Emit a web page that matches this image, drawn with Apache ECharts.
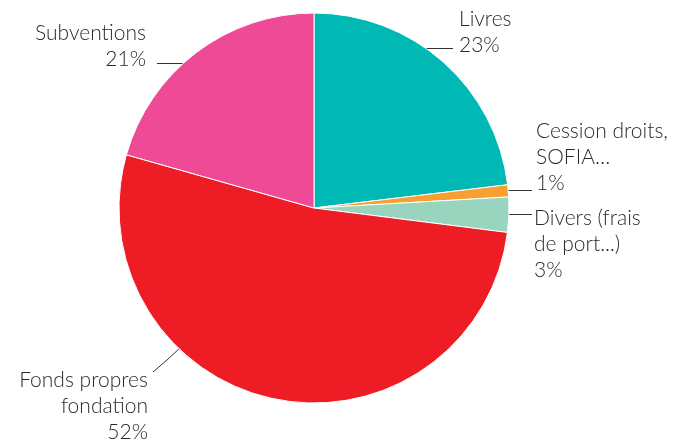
<!DOCTYPE html>
<html><head><meta charset="utf-8">
<script src="https://cdn.jsdelivr.net/npm/echarts@6/dist/echarts.min.js"></script>
<style>html,body{margin:0;padding:0;background:#fff}#c{width:677px;height:439px}</style>
</head><body><div id="c"></div>
<script>
const categories = ["Livres", "Cession droits,\nSOFIA…", "Divers (frais\nde port...)", "Fonds propres\nfondation", "Subventions"];
const values = [23.1, 1.0, 2.9, 52.4, 20.6];
const colors = ["#00B8B4", "#F7A032", "#99D4BE", "#EE1D25", "#EE4A95"];

// label placement (anchor, alignment, leader line)
const labelPos = [
  {x: 459, y: 6, align: 'left', line: [[425, 48.5], [440, 48.5], [453, 48.5]]},
  {x: 536, y: 118, align: 'left', line: [[508, 190.5], [520, 190.5], [532, 190.5]]},
  {x: 534, y: 205, align: 'left', line: [[508, 214.5], [520, 214.5], [532, 214.5]]},
  {x: 148, y: 367, align: 'right', line: [[181, 347], [167, 360], [153, 372]]},
  {x: 146, y: 20, align: 'right', line: [[183, 63.5], [170, 63.5], [157, 63.5]]}
];

const chart = echarts.init(document.getElementById('c'), null, {renderer: 'canvas'});
chart.setOption({
  animation: false,
  series: [{
    type: 'pie',
    center: [314, 208],
    radius: 195,
    startAngle: 90,
    clockwise: true,
    avoidLabelOverlap: false,
    data: categories.map((n, i) => ({name: n, value: values[i], itemStyle: {color: colors[i]}})),
    itemStyle: {borderColor: '#fff', borderWidth: 1},
    label: {
      show: true,
      position: 'outside',
      formatter: p => p.name + '\n' + Math.round(p.value) + '%',
      fontFamily: 'Lato',
      fontWeight: 300,
      fontSize: 21,
      lineHeight: 26,
      color: '#2b2b2b'
    },
    labelLine: {show: true, lineStyle: {color: '#333', width: 1}},
    labelLayout: function (params) {
      const l = labelPos[params.dataIndex];
      return {x: l.x, y: l.y, align: l.align, verticalAlign: 'top', labelLinePoints: l.line};
    }
  }]
});
</script></body></html>
